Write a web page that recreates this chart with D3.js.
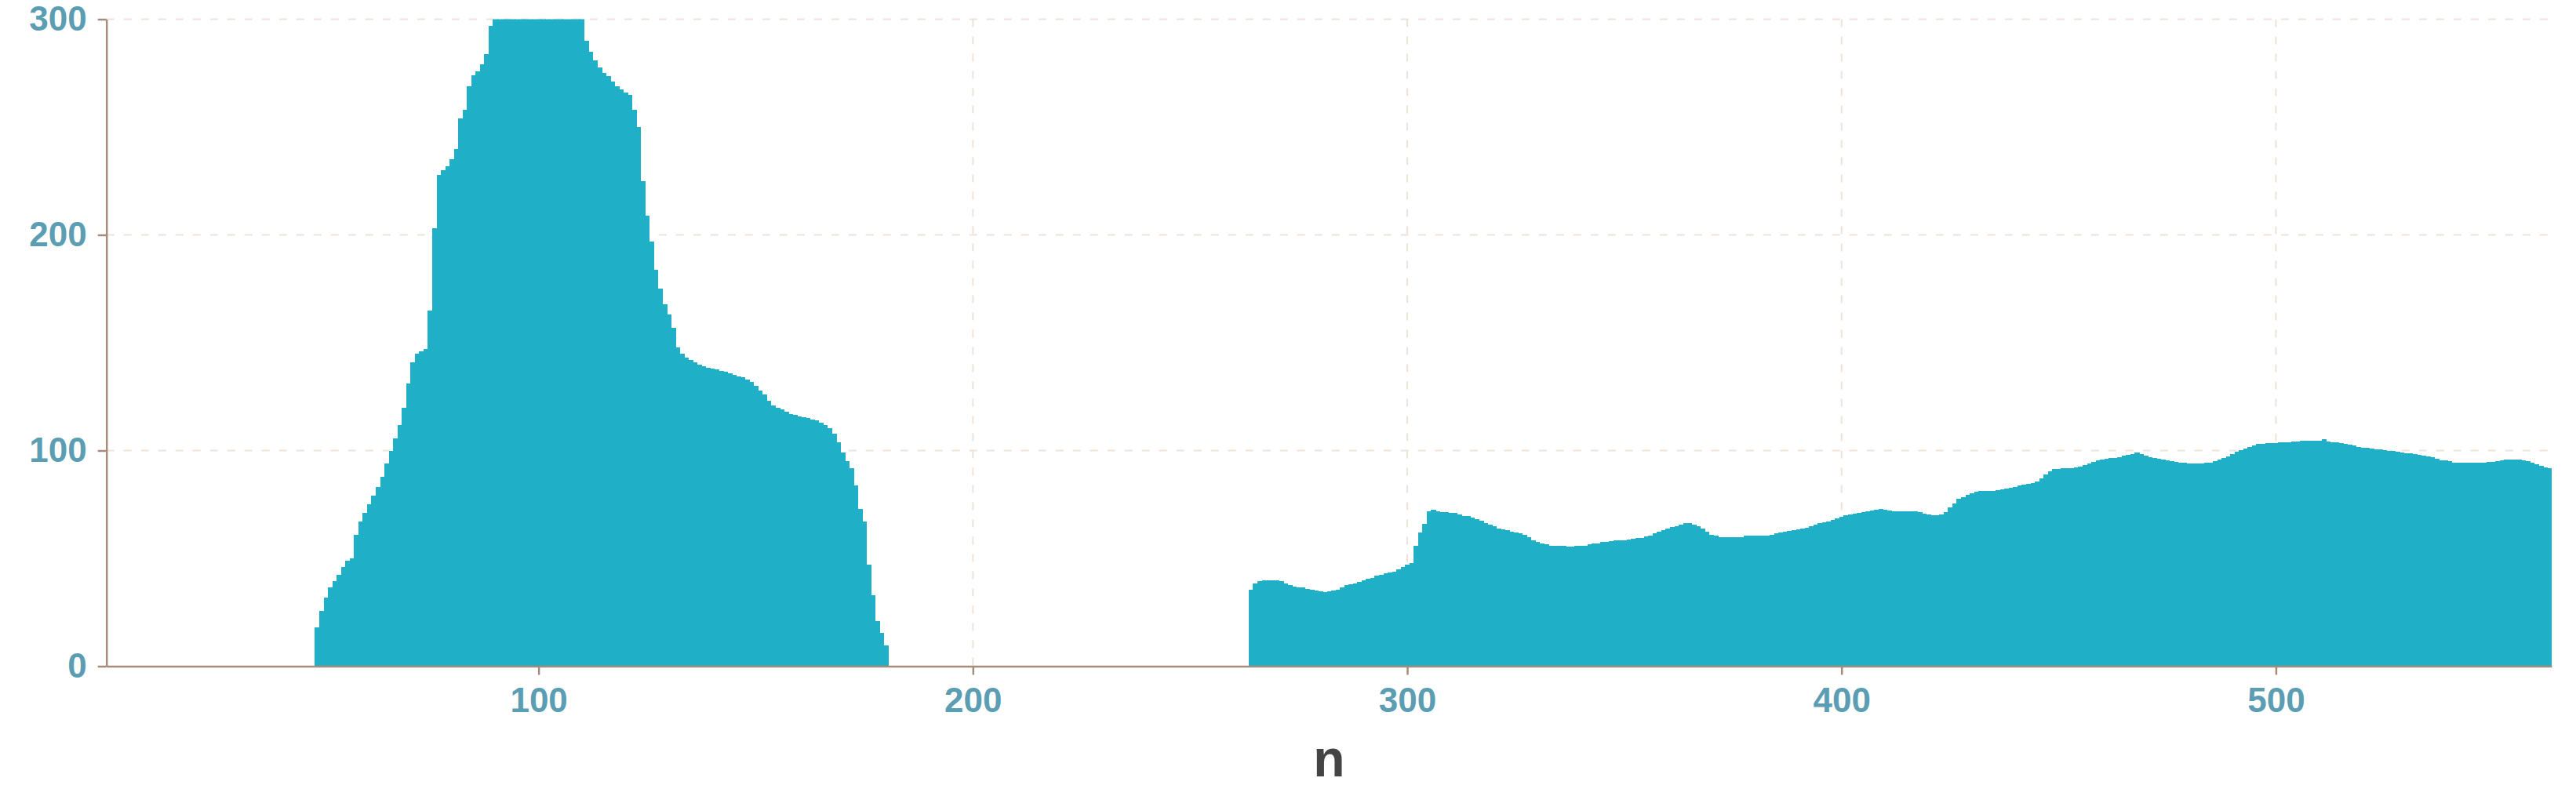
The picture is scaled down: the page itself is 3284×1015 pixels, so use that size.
<!DOCTYPE html>
<html>
<head>
<meta charset="utf-8">
<script src="https://cdnjs.cloudflare.com/ajax/libs/d3/7.8.5/d3.min.js"></script>
<style>
    body { margin: 0; background: #ffffff; }
    .chart text { font-family: "Liberation Sans", Arial, sans-serif; }
</style>
</head>
<body>
<div class="chart"></div>
<script>

// first block of n (49..180)
var firstN = d3.range(49, 181);
var firstValues = [
    18, 25.5, 32, 36.5, 39.5, 42.5, 46, 49, 50, 61,
    67, 71, 75, 79, 83, 88, 94, 100, 105.5, 112,
    120, 131, 141, 145, 146, 147, 165, 203, 228, 230,
    232, 235, 240, 254, 258, 269, 274, 276, 279, 284,
    297, 305, 309, 313, 317, 320, 323, 325, 327, 328,
    329, 329, 328, 327, 325, 322, 319, 316, 312, 308,
    304, 301, 290, 285, 281, 277.5, 275, 273.5, 271, 269,
    267.5, 266, 265, 258, 250, 225, 209, 197, 184, 175,
    168, 163, 157, 148, 145, 143, 142, 141, 140, 139,
    138.5, 138, 137.5, 137, 136.5, 136, 135, 134.5, 134, 133,
    132, 130, 128, 126, 123, 121, 120, 119, 118, 117,
    116.5, 116, 115.5, 115, 114.5, 114, 113, 112, 110.5, 108,
    104, 99, 95, 92, 84, 73, 67, 47, 33, 21,
    15.5, 9.5
];

// second block of n (264..563)
var secondN = d3.range(264, 564);
var secondValues = [
    35.5, 38.5, 39.5, 40, 40, 40, 40, 39.5, 38.5, 37.5,
    37, 36.7, 36.5, 36, 35.5, 35, 34.7, 34.5, 34.7, 35,
    35.5, 36.5, 37.5, 38, 38.5, 39, 40, 40.5, 41, 42,
    42.5, 43, 43.5, 44, 45, 46, 47, 48, 56, 62,
    66, 72, 72.7, 72, 71.5, 71.3, 71, 71, 70.5, 69.8,
    69.5, 68.8, 68.2, 67.5, 66.5, 65.5, 64.8, 64, 63.5, 63,
    62.5, 62, 61.5, 61, 60, 58.5, 57.5, 57, 56.5, 56,
    56, 56, 55.8, 55.5, 55.5, 55.8, 56, 56, 56.5, 57,
    57, 57.5, 57.8, 58, 58.3, 58.5, 58.5, 58.8, 59, 59.3,
    59.6, 60.2, 60.5, 61.5, 62.2, 63, 64, 64.5, 65, 65.5,
    66.4, 66.4, 65.5, 65, 64, 62.5, 61, 60.4, 60, 59.8,
    59.8, 59.8, 59.8, 60, 60.4, 60.4, 60.4, 60.4, 60.4, 60.4,
    60.8, 61.5, 62, 62.4, 62.8, 63.2, 63.6, 64, 64.3, 65,
    65.8, 66.2, 66.8, 67.2, 68, 68.6, 69.3, 70, 70.3, 70.8,
    71, 71.5, 72, 72.2, 72.5, 73, 72.5, 72.2, 72, 71.9,
    71.9, 71.9, 71.9, 71.8, 71.3, 70.7, 70.2, 70, 70, 70.3,
    71.5, 73.5, 75.5, 77.5, 78.5, 79.5, 80.2, 80.8, 81.2, 81.3,
    81.2, 81.3, 81.6, 82, 82.3, 82.6, 83.2, 84, 84.3, 84.6,
    85, 85.8, 87, 89, 90.5, 91.3, 91.5, 91.9, 91.9, 92,
    92.2, 92.5, 93.2, 94, 94.8, 95.5, 96, 96.3, 96.7, 96.7,
    97, 97.5, 98, 98.5, 99, 98.5, 97.5, 97, 96.5, 96.1,
    95.8, 95.3, 95, 94.7, 94.4, 94.2, 94.1, 94, 94, 94,
    94.2, 94.5, 95, 95.8, 96.5, 97.2, 98.3, 99.3, 100.2, 101,
    101.8, 102.5, 103, 103.2, 103.4, 103.5, 103.6, 103.8, 104, 104,
    104.2, 104.3, 104.4, 104.4, 104.4, 104.4, 104.5, 105.2, 104.2, 104,
    103.7, 103.3, 103, 102.6, 102.2, 101.8, 101.4, 101.1, 100.9, 100.7,
    100.5, 100.3, 100, 99.8, 99.5, 99.2, 98.9, 98.6, 98.3, 98,
    97.6, 97.2, 96.8, 96.2, 95.6, 95.3, 95, 94.5, 94.2, 94.2,
    94.2, 94.2, 94.2, 94.2, 94.5, 94.8, 94.9, 95, 95.3, 95.7,
    96, 96, 95.8, 95.4, 95, 94.5, 93.7, 93, 92.2, 92
];

var xTicks = [100, 200, 300, 400, 500];
var yTicks = [0, 100, 200, 300];
var xTitle = "n";

var div_width = 3284;
var div_height = 1015;
var plotLeft = 135.7, plotRight = 3253, plotTop = 24.5, plotBottom = 849.5;

var barColor = "#1fafc6";
var axisColor = "#a58c7c";
var gridColor = "#efe2d9";
var labelColor = "#5b9db2";

var rows = [];
for (var i = 0; i < firstN.length; i++) {
    rows.push({ n: firstN[i], value: firstValues[i] });
}
for (var j = 0; j < secondN.length; j++) {
    rows.push({ n: secondN[j], value: secondValues[j] });
}

var x = d3.scaleLinear().domain([0.5, 563.5]).range([plotLeft, plotRight]);
var y = d3.scaleLinear().domain([0, 300]).range([plotBottom, plotTop]);

var svg = d3.select(".chart").append("svg")
    .attr("width", div_width)
    .attr("height", div_height);

svg.append("defs").append("clipPath")
    .attr("id", "plotClip")
    .append("rect")
    .attr("x", plotLeft)
    .attr("y", plotTop)
    .attr("width", plotRight - plotLeft)
    .attr("height", plotBottom - plotTop);

// dashed grid
svg.append("g").selectAll("line")
    .data(yTicks.filter(function (d) { return d > 0; }))
    .enter().append("line")
    .attr("x1", plotLeft).attr("x2", plotRight)
    .attr("y1", function (d) { return y(d); })
    .attr("y2", function (d) { return y(d); })
    .attr("stroke", gridColor)
    .attr("stroke-width", 2)
    .attr("stroke-dasharray", "10,12");

svg.append("g").selectAll("line")
    .data(xTicks)
    .enter().append("line")
    .attr("x1", function (d) { return x(d); })
    .attr("x2", function (d) { return x(d); })
    .attr("y1", plotTop).attr("y2", plotBottom)
    .attr("stroke", gridColor)
    .attr("stroke-width", 2)
    .attr("stroke-dasharray", "10,12");

// bars
svg.append("g")
    .attr("clip-path", "url(#plotClip)")
    .selectAll("rect")
    .data(rows)
    .enter().append("rect")
    .attr("x", function (d) { return x(d.n - 0.5); })
    .attr("width", function (d) { return x(d.n + 0.5) - x(d.n - 0.5) + 0.6; })
    .attr("y", function (d) { return y(d.value); })
    .attr("height", function (d) { return y(0) - y(d.value); })
    .attr("fill", barColor)
    .attr("shape-rendering", "crispEdges");

// axes
var yAxis = svg.append("g")
    .attr("transform", "translate(" + plotLeft + ",0)")
    .call(d3.axisLeft(y).tickValues(yTicks).tickSize(11).tickSizeOuter(0).tickPadding(14));

var xAxis = svg.append("g")
    .attr("transform", "translate(0," + plotBottom + ")")
    .call(d3.axisBottom(x).tickValues(xTicks).tickSize(11).tickSizeOuter(0).tickPadding(16));

[yAxis, xAxis].forEach(function (g) {
    g.select(".domain").attr("stroke", axisColor).attr("stroke-width", 2.5);
    g.selectAll(".tick line").attr("stroke", axisColor).attr("stroke-width", 2.5);
    g.selectAll(".tick text")
        .attr("fill", labelColor)
        .style("font-size", "44px")
        .style("font-weight", "bold")
        .style("font-family", "'Liberation Sans', Arial, sans-serif");
});

svg.append("text")
    .attr("x", (plotLeft + plotRight) / 2)
    .attr("y", 990)
    .attr("text-anchor", "middle")
    .attr("fill", "#444444")
    .style("font-size", "66px")
    .style("font-weight", "bold")
    .text(xTitle);

</script>
</body>
</html>
